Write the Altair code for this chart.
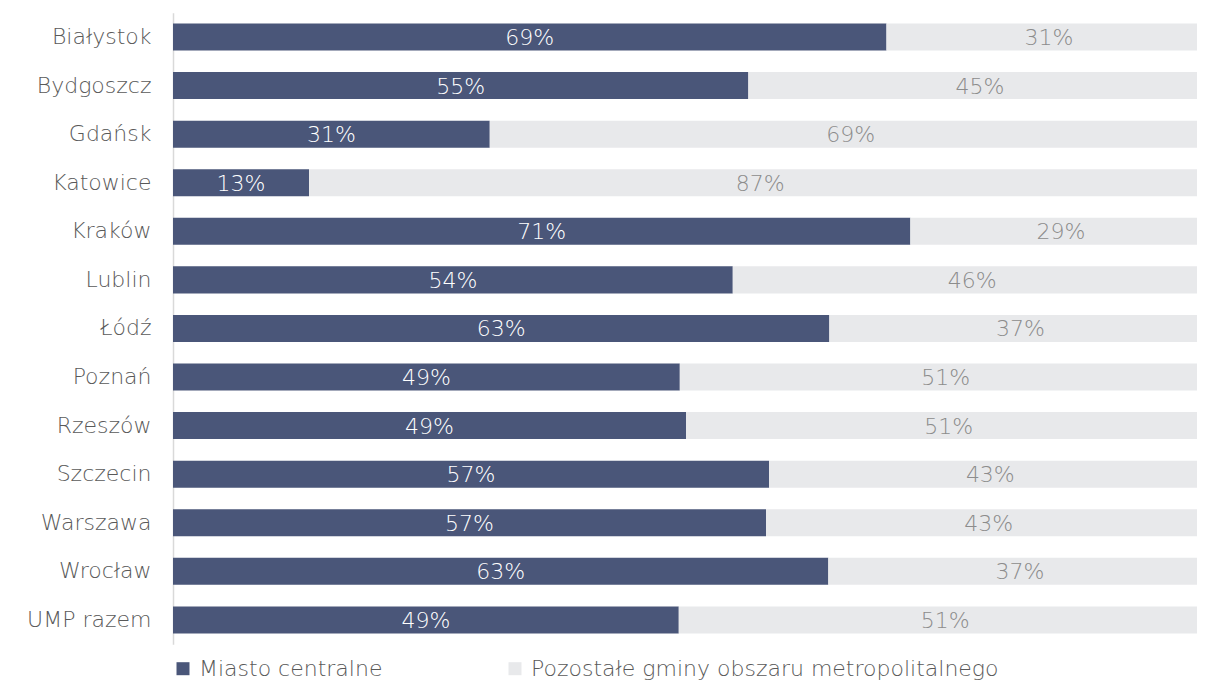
import altair as alt
import pandas as pd

cities = ["Białystok", "Bydgoszcz", "Gdańsk", "Katowice", "Kraków", "Lublin\u00a0",
          "Łódź\u00a0", "Poznań", "Rzeszów\u00a0", "Szczecin", "Warszawa", "Wrocław", "UMP razem"]
central = [68.7, 55.4, 30.5, 13.1, 71.0, 53.9, 63.2, 48.8, 49.4, 57.4, 57.1, 63.1, 48.7]
central_labels = ["69%", "55%", "31%", "13%", "71%", "54%", "63%", "49%", "49%", "57%", "57%", "63%", "49%"]
other_labels = ["31%", "45%", "69%", "87%", "29%", "46%", "37%", "51%", "51%", "43%", "43%", "37%", "51%"]
series = ["Miasto centralne", "Pozostałe gminy obszaru metropolitalnego"]
colors = ["#4a5679", "#e8e9eb"]

rows = []
for c, v, l1, l2 in zip(cities, central, central_labels, other_labels):
    rows.append({"city": c, "series": series[0], "value": v, "label": l1, "ord": 0})
    rows.append({"city": c, "series": series[1], "value": 100 - v, "label": l2, "ord": 1})
df = pd.DataFrame(rows)

FONT = "DejaVu Sans"
FS = 22
FW = 300

yenc = alt.Y("city:N", sort=cities,
             scale=alt.Scale(paddingInner=0.444, paddingOuter=0.222),
             axis=alt.Axis(title=None, ticks=False, labelFontSize=FS, labelColor="#595959",
                           labelPadding=22, domainColor="#d9d9d9", domainWidth=1.5,
                           labelFont=FONT, labelFontWeight=FW, grid=False))

base = alt.Chart(df).transform_stack(
    stack="value", as_=["x0", "x1"], groupby=["city"], sort=[alt.SortField("ord")]
)

bars = base.mark_bar().encode(
    y=yenc,
    x=alt.X("x0:Q", scale=alt.Scale(domain=[0, 98.6], nice=False, zero=True), axis=None),
    x2="x1:Q",
    color=alt.Color("series:N", scale=alt.Scale(domain=series, range=colors),
                    legend=alt.Legend(title=None, orient="none", legendX=-1, legendY=645,
                                      direction="horizontal", symbolType="square",
                                      symbolSize=169, symbolStrokeWidth=0,
                                      labelFontSize=22, labelColor="#595959",
                                      labelFont=FONT, labelFontWeight=FW, labelLimit=800,
                                      columnPadding=121, labelOffset=5)),
)

texts = base.transform_calculate(mid="(datum.x0 + datum.x1) / 2").mark_text(
    fontSize=FS, font=FONT, fontWeight=FW, baseline="middle", dy=1
).encode(
    y=alt.Y("city:N", sort=cities),
    x=alt.X("mid:Q"),
    text="label:N",
    color=alt.condition(alt.datum.series == series[0], alt.value("#ffffff"), alt.value("#8c8c8c")),
)

chart = alt.layer(bars, texts).properties(
    width=1024, height=631.5,
    autosize=alt.AutoSizeParams(type="none"),
    padding={"left": 165, "top": 4.7, "right": 0, "bottom": 36.8},
).configure_view(stroke=None)

chart.save("out.html", embed_options={"renderer": "svg", "actions": False})
